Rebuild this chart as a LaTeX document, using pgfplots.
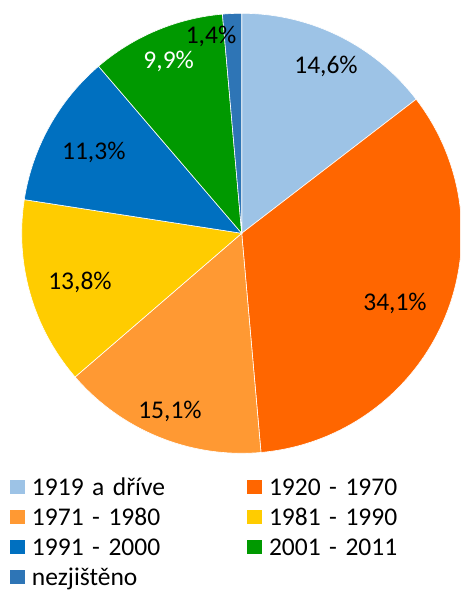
\documentclass[border=0pt]{standalone}
\usepackage{pgfplots}
\pgfplotsset{compat=1.18}
\usepackage{fontspec}
\setmainfont{Carlito}
\definecolor{c1}{HTML}{9DC3E6}
\definecolor{c2}{HTML}{FF6600}
\definecolor{c3}{HTML}{FF9933}
\definecolor{c4}{HTML}{FFCC00}
\definecolor{c5}{HTML}{0070C0}
\definecolor{c6}{HTML}{009900}
\definecolor{c7}{HTML}{2E75B6}
\newcommand{\fs}{\fontsize{25.5}{30}\selectfont}
\def\cx{241.7}\def\cy{359.7}\def\R{220}
% slice: #1 = start angle, #2 = end angle, #3 = colour
\newcommand{\slice}[3]{\addplot[fill=#3, draw=white, line width=0.6pt, domain=#1:#2, samples=90, variable=\t] ({\cx+\R*cos(\t)},{\cy+\R*sin(\t)}) -- (axis cs:\cx,\cy) -- cycle;}
\begin{document}
\begin{tikzpicture}
\begin{axis}[
  scale only axis, width=460pt, height=593pt,
  xmin=0, xmax=460, ymin=0, ymax=593,
  hide axis,
  legend columns=2, legend cell align=left,
  legend style={at={(axis cs:10,117)}, anchor=north west, draw=none, fill=none,
    inner sep=0pt, outer sep=0pt, font=\fs, column sep=7.5pt, row sep=4pt,
    nodes={anchor=base, inner sep=0pt, text height=20pt, text depth=6pt, text width=207.5pt, align=left}},
  legend image code/.code={\fill[#1, draw=none] (0pt,1.6pt) rectangle (14.5pt,16pt);},
]
% values (%): 14.6, 34.1, 15.1, 13.8, 11.3, 9.9, 1.4 (sum 100.2), clockwise from top
\slice{37.545}{90}{c1}
\slice{-84.970}{37.545}{c2}
\slice{-139.222}{-84.970}{c3}
\slice{-188.802}{-139.222}{c4}
\slice{-229.401}{-188.802}{c5}
\slice{-264.970}{-229.401}{c6}
\slice{-270}{-264.970}{c7}
\legend{1919 a dříve, 1920 - 1970, 1971 - 1980, 1981 - 1990, 1991 - 2000, 2001 - 2011, nezjištěno}
\node[font=\fs, anchor=base, inner sep=0pt] at (axis cs:326,519.7) {14,6\%};
\node[font=\fs, anchor=base, inner sep=0pt] at (axis cs:395,282.3) {34,1\%};
\node[font=\fs, anchor=base, inner sep=0pt] at (axis cs:170,174.7) {15,1\%};
\node[font=\fs, anchor=base, inner sep=0pt] at (axis cs:80,303) {13,8\%};
\node[font=\fs, anchor=base, inner sep=0pt] at (axis cs:93.8,433) {11,3\%};
\node[font=\fs, anchor=base, inner sep=0pt, text=white] at (axis cs:168.7,524.7) {9,9\%};
\node[font=\fs, anchor=base, inner sep=0pt] at (axis cs:211,549.7) {1,4\%};
\end{axis}
\pgfresetboundingbox
\path (current axis.south west) rectangle (current axis.north east);
\end{tikzpicture}
\end{document}
